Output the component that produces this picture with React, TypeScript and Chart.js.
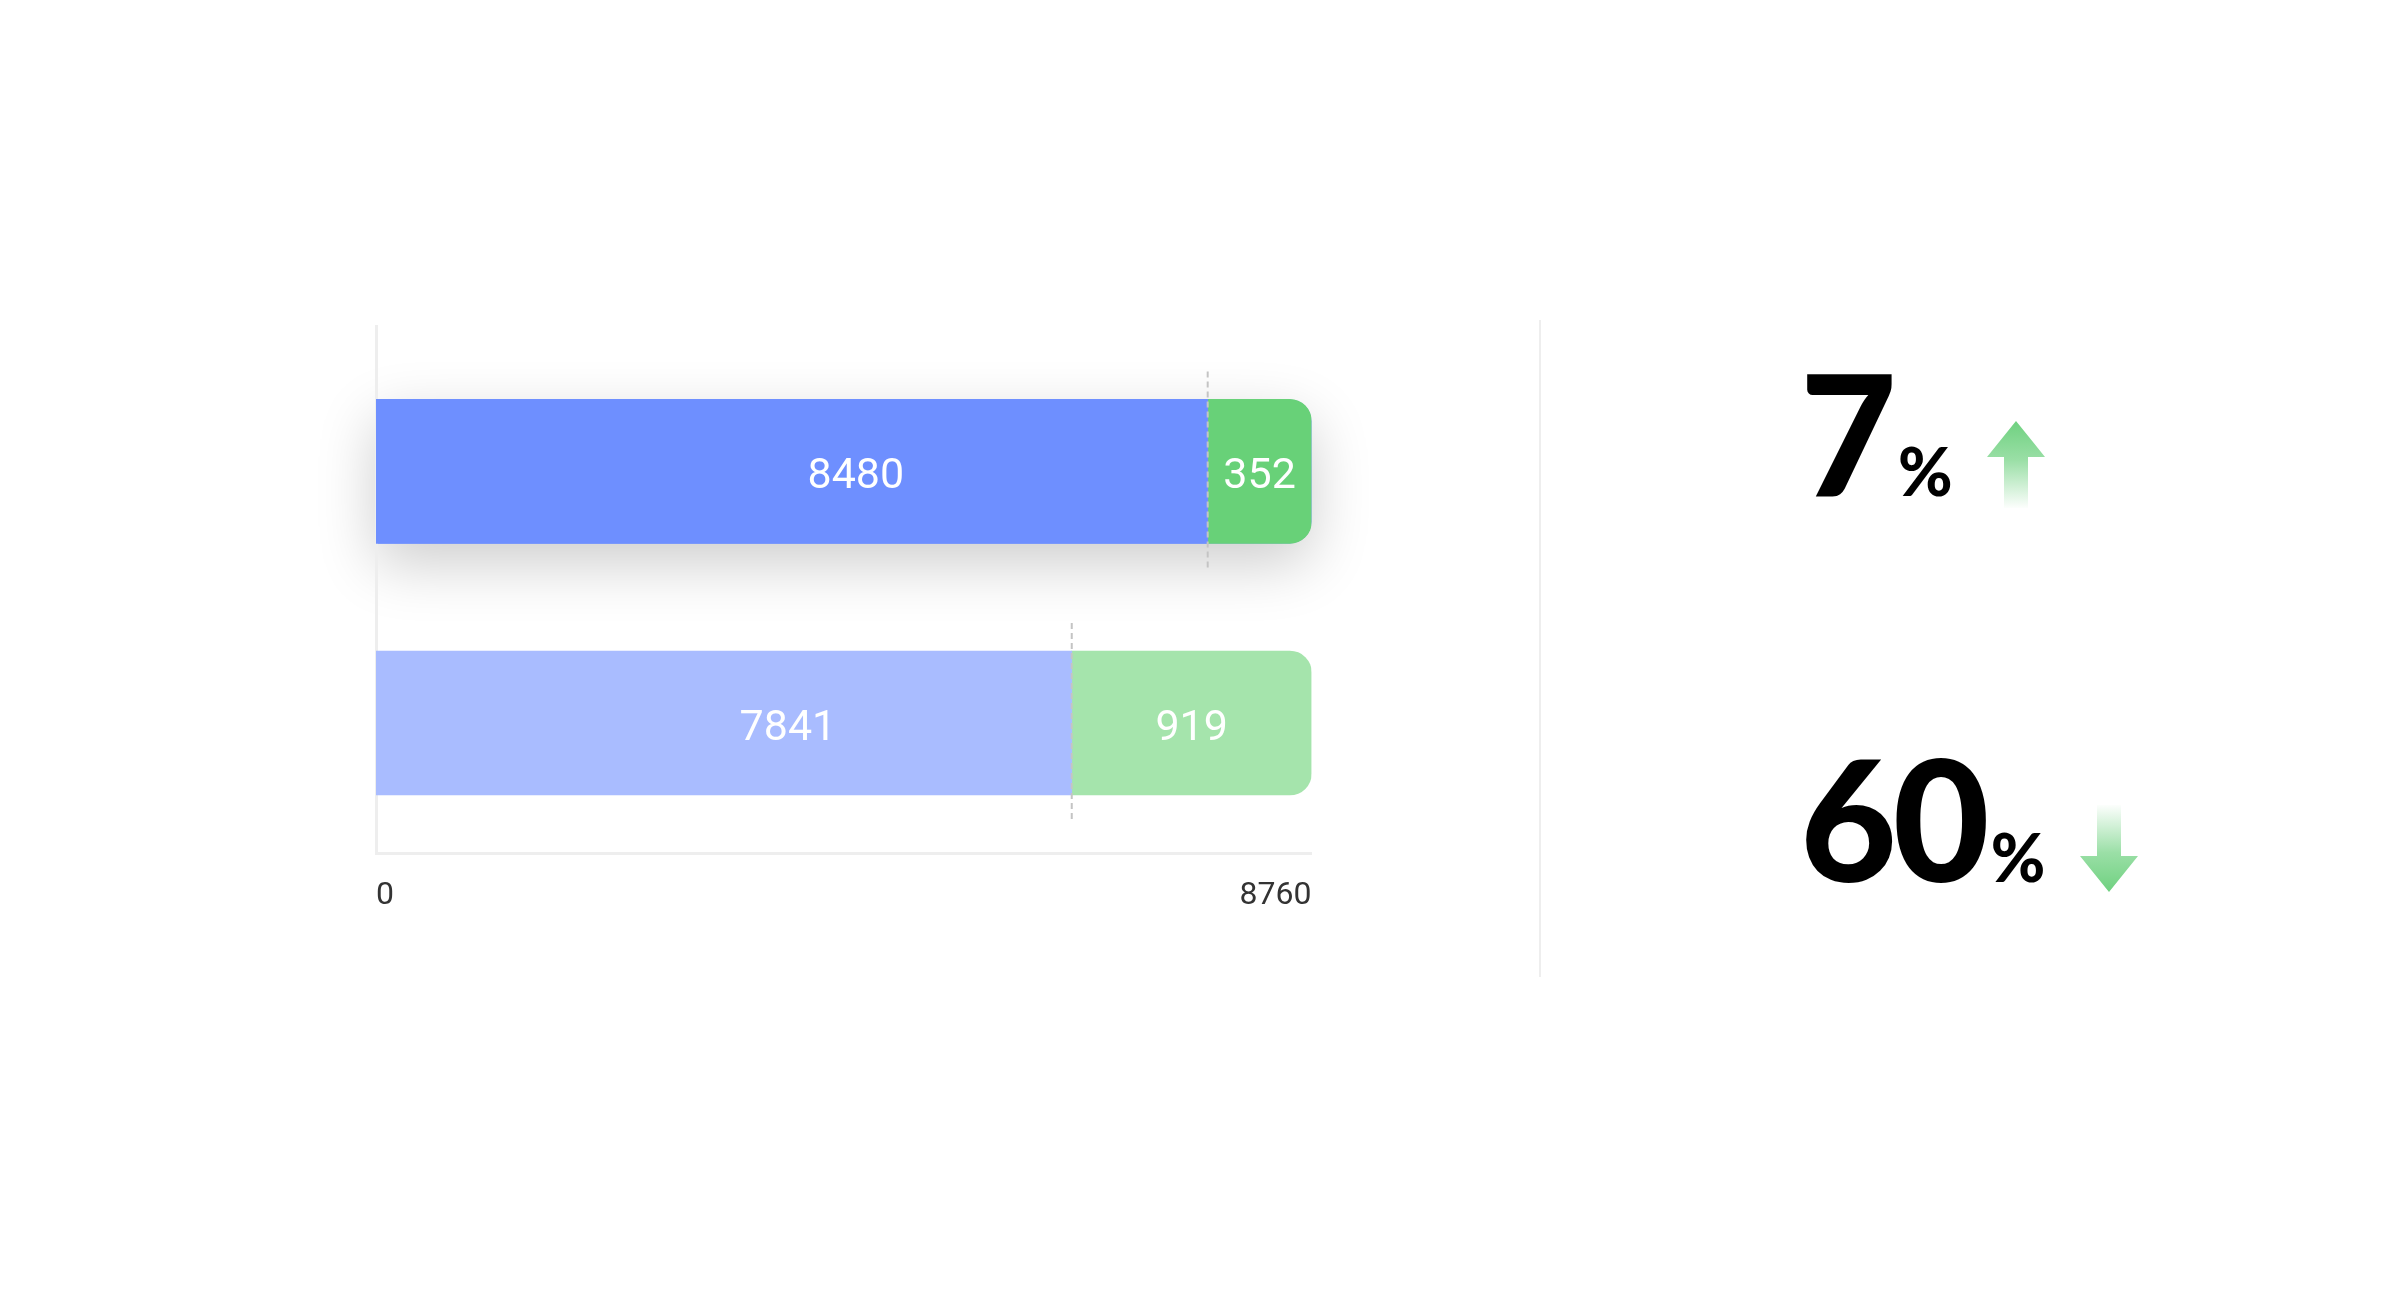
import { useEffect, useRef } from "react";
import { Chart, registerables } from "chart.js";

Chart.register(...registerables);

// bar lengths as read against the 0–8760 axis
const blueLen = [7788, 6515];
const greenLen = [972, 2245];
// numbers printed inside the bars
const blueText = ["8480", "7841"];
const greenText = ["352", "919"];
const axisTicks = [0, 8760];
// right-hand figures
const kpiValue = ["7", "60"];
const kpiDir = ["up", "down"];

const BLUE = ["#6e8fff", "#a9bcff"];
const GREEN = ["#68d178", "#a5e4ac"];
const AXIS = "#eeeeee";
const BAR_H = 144;

const barDecor = {
  id: "barDecor",
  // soft shadow under the first bar, painted before the axes
  beforeDraw(chart: any) {
    const blue = chart.getDatasetMeta(0).data[0];
    const green = chart.getDatasetMeta(1).data[0];
    if (!blue || !green) return;
    const ctx = chart.ctx;
    ctx.save();
    ctx.shadowColor = "rgba(0,0,0,0.2)";
    ctx.shadowBlur = 60;
    ctx.shadowOffsetY = 20;
    ctx.fillStyle = BLUE[0];
    ctx.beginPath();
    ctx.roundRect(blue.base, blue.y - BAR_H / 2, green.x - blue.base, BAR_H, [0, 22, 22, 0]);
    ctx.fill();
    ctx.restore();
  },
  afterDatasetsDraw(chart: any) {
    const ctx = chart.ctx;
    const blueBars = chart.getDatasetMeta(0).data;
    const greenBars = chart.getDatasetMeta(1).data;
    ctx.save();
    ctx.strokeStyle = "#c4c4c4";
    ctx.lineWidth = 2;
    ctx.setLineDash([6, 4]);
    blueBars.forEach((bar: any) => {
      ctx.beginPath();
      ctx.moveTo(bar.x, bar.y - BAR_H / 2 - 28);
      ctx.lineTo(bar.x, bar.y + BAR_H / 2 + 28);
      ctx.stroke();
    });
    ctx.setLineDash([]);
    ctx.fillStyle = "#ffffff";
    ctx.font = "43px Roboto";
    ctx.textAlign = "center";
    ctx.textBaseline = "middle";
    blueBars.forEach((bar: any, i: number) => {
      ctx.fillText(blueText[i], (bar.base + bar.x) / 2 + 64, bar.y + 6);
    });
    greenBars.forEach((bar: any, i: number) => {
      ctx.fillText(greenText[i], (bar.base + bar.x) / 2, bar.y + 6);
    });
    ctx.restore();
  },
};

function Arrow({ dir, id }: { dir: string; id: string }) {
  const up = dir === "up";
  return (
    <svg
      width={60}
      height={88}
      viewBox="0 0 60 88"
      style={{ marginLeft: 34, position: "relative", top: up ? 12 : 11, display: "block" }}
    >
      <defs>
        <linearGradient id={id} x1="0" y1={up ? "0" : "1"} x2="0" y2={up ? "1" : "0"}>
          <stop offset="0" stopColor="#6fd180" stopOpacity="1" />
          <stop offset="0.45" stopColor="#6fd180" stopOpacity="0.7" />
          <stop offset="1" stopColor="#6fd180" stopOpacity="0.02" />
        </linearGradient>
      </defs>
      <path
        d={
          up
            ? "M30 1 L59 37 L42 37 L42 88 L18 88 L18 37 L1 37 Z"
            : "M30 87 L59 51 L42 51 L42 0 L18 0 L18 51 L1 51 Z"
        }
        fill={`url(#${id})`}
      />
    </svg>
  );
}

export default function App() {
  const canvasRef = useRef<HTMLCanvasElement>(null);

  useEffect(() => {
    const canvas = canvasRef.current;
    if (!canvas) return;
    const chart = new Chart(canvas, {
      type: "bar",
      data: {
        datasets: [
          {
            data: blueLen.map((v, i) => ({ x: v, y: i })),
            backgroundColor: BLUE,
            barThickness: BAR_H,
            borderRadius: 0,
          },
          {
            data: greenLen.map((v, i) => ({ x: v, y: i })),
            backgroundColor: GREEN,
            barThickness: BAR_H,
            borderRadius: 22,
          },
        ],
      },
      options: {
        animation: false,
        responsive: true,
        maintainAspectRatio: false,
        indexAxis: "y",
        layout: { padding: { left: 376, right: 188.5, top: 326, bottom: 362 } },
        plugins: { legend: { display: false }, tooltip: { enabled: false } },
        scales: {
          x: {
            type: "linear",
            stacked: true,
            min: axisTicks[0],
            max: axisTicks[axisTicks.length - 1],
            afterBuildTicks: (scale: any) => {
              scale.ticks = axisTicks.map((v) => ({ value: v }));
            },
            grid: { display: false, drawTicks: false },
            border: { display: true, color: AXIS, width: 3 },
            ticks: {
              align: "inner",
              padding: 23,
              color: "#333333",
              autoSkip: false,
              maxRotation: 0,
              font: { family: "Roboto", size: 32 },
              callback: (v: any) => String(v),
            },
          },
          y: {
            type: "linear",
            stacked: true,
            reverse: true,
            offset: false,
            min: -0.578,
            max: 1.519,
            grid: { display: false, drawTicks: false },
            border: { display: true, color: AXIS, width: 3 },
            ticks: { display: false },
          },
        },
      },
      plugins: [barDecor],
    } as any);
    return () => chart.destroy();
  }, []);

  return (
    <div
      style={{
        position: "absolute",
        left: 0,
        top: 0,
        width: 2400,
        height: 1300,
        background: "#ffffff",
        overflow: "hidden",
      }}
    >
      <div style={{ position: "absolute", left: 0, top: 0, width: 1500, height: 1300 }}>
        <canvas ref={canvasRef} />
      </div>
      <div
        style={{ position: "absolute", left: 1539, top: 320, width: 2, height: 657, background: AXIS }}
      />
      {kpiValue.map((v, i) => (
        <div
          key={v}
          style={{
            position: "absolute",
            left: 1800,
            top: i === 0 ? 348 : 734,
            display: "flex",
            alignItems: "baseline",
            lineHeight: 1,
            fontFamily: "Lato",
            color: "#000",
          }}
        >
          <span style={{ fontSize: 167, fontWeight: 900, letterSpacing: -4 }}>{v}</span>
          <span style={{ fontSize: 66, fontWeight: 900, marginLeft: 5 }}>%</span>
          <Arrow dir={kpiDir[i]} id={`kpi-grad-${i}`} />
        </div>
      ))}
    </div>
  );
}
